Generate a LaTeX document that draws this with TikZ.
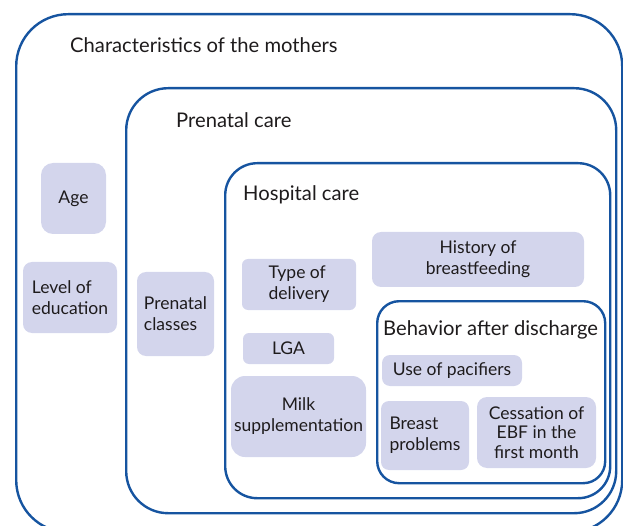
\documentclass[tikz,border=0pt]{standalone}
\usepackage{fontspec}
\setmainfont{Lato}
\definecolor{frame}{RGB}{22,84,160}
\definecolor{item}{RGB}{211,213,236}
\definecolor{ink}{RGB}{30,27,28}
\begin{document}
\begin{tikzpicture}[x=1pt,y=-1pt,
  frm/.style={draw=frame, line width=2.4pt, anchor=north west, inner sep=0pt},
  itm/.style={fill=item, rounded corners=9pt, text=ink, font=\fontsize{17.5}{21}\selectfont, inner sep=0pt, align=center},
  ttl/.style={anchor=west, text=ink, font=\fontsize{20.2}{24}\selectfont, inner sep=0pt}]
\useasboundingbox (0,0) rectangle (623,526);
\clip (0,0) rectangle (623,526);
% frames
\node[frm, rounded corners=52pt, minimum width=606pt, minimum height=518pt] (mothers) at (15,13) {};
\node[frm, rounded corners=42pt, minimum width=490pt, minimum height=425pt] (prenatal) at (125,87) {};
\node[frm, rounded corners=32pt, minimum width=385pt, minimum height=335pt] (hospital) at (224,162) {};
\node[frm, rounded corners=22pt, minimum width=228pt, minimum height=182pt] (behavior) at (376,300) {};
% titles
\node[ttl] (tmothers) at (70,45) {Characteristics of the mothers};
\node[ttl] (tprenatal) at (176,120) {Prenatal care};
\node[ttl] (thospital) at (243,195) {Hospital care};
\node[ttl] (tbehavior) at (383,330) {Behavior after discharge};
% items
\node[itm, rounded corners=12pt, minimum width=65pt, minimum height=71pt] (age) at (73.5,198.5) {Age};
\node[itm, align=left, minimum width=94pt, minimum height=71pt] (edu) at (70,297.5) {Level of\\education};
\node[itm, align=left, minimum width=77pt, minimum height=84pt] (classes) at (175.5,314) {Prenatal\\classes};
\node[itm, align=left, rounded corners=6pt, minimum width=114pt, minimum height=51pt] (delivery) at (299,284.5) {Type of\\delivery};
\node[itm, rounded corners=6pt, minimum width=91pt, minimum height=31pt] (lga) at (288.5,348.5) {LGA};
\node[itm, rounded corners=14pt, minimum width=135pt, minimum height=81pt] (milk) at (298.5,416.5) {Milk\\supplementation};
\node[itm, minimum width=212pt, minimum height=55pt] (history) at (478,259.5) {History of\\breastfeeding};
\node[itm, rounded corners=8pt, minimum width=140pt, minimum height=31pt] (pacifiers) at (452,370.5) {Use of pacifiers};
\node[itm, align=left, rounded corners=8pt, minimum width=88pt, minimum height=69pt] (breast) at (425,435.5) {Breast\\problems};
\node[itm, font=\fontsize{17.5}{19.5}\selectfont, rounded corners=10pt, minimum width=119pt, minimum height=71pt] (cessation) at (536.5,432.5) {Cessation of\\EBF in the\\first month};
\end{tikzpicture}
\end{document}
